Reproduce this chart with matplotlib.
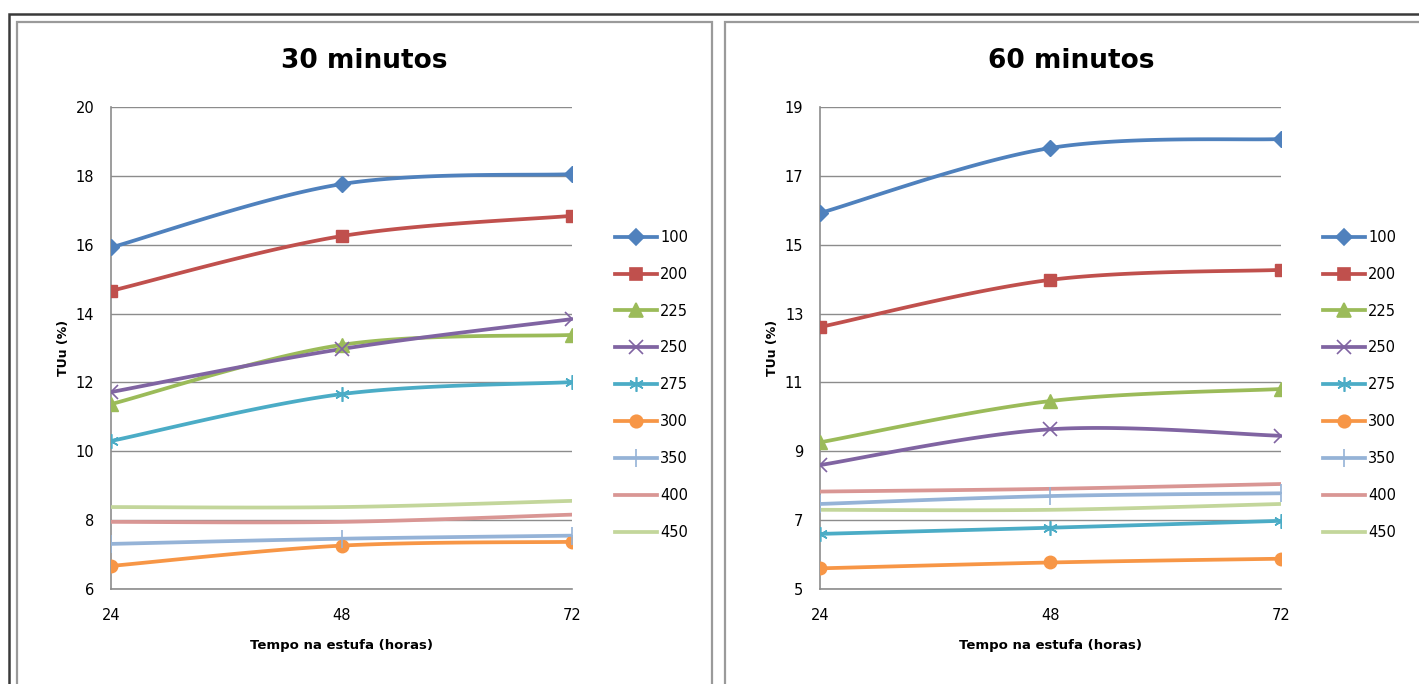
import numpy as np
import matplotlib
matplotlib.use("Agg")
import matplotlib.pyplot as plt
from matplotlib.patches import Rectangle

# tempo na estufa (horas)
horas = [24, 48, 72]
series = ["100", "200", "225", "250", "275", "300", "350", "400", "450"]

tuu_30 = {
    "100": [15.92, 17.76, 18.05],
    "200": [14.66, 16.25, 16.84],
    "225": [11.37, 13.09, 13.38],
    "250": [11.72, 12.97, 13.84],
    "275": [10.30, 11.66, 12.01],
    "300": [6.67, 7.26, 7.37],
    "350": [7.31, 7.46, 7.55],
    "400": [7.95, 7.95, 8.16],
    "450": [8.38, 8.38, 8.56],
}
tuu_60 = {
    "100": [15.92, 17.81, 18.07],
    "200": [12.61, 13.98, 14.27],
    "225": [9.26, 10.46, 10.81],
    "250": [8.60, 9.64, 9.45],
    "275": [6.60, 6.78, 6.98],
    "300": [5.60, 5.77, 5.88],
    "350": [7.47, 7.70, 7.78],
    "400": [7.83, 7.91, 8.05],
    "450": [7.30, 7.30, 7.47],
}

cores = {"100": "#4F81BD", "200": "#C0504D", "225": "#9BBB59", "250": "#8064A2",
         "275": "#4BACC6", "300": "#F79646", "350": "#95B3D7", "400": "#D99694",
         "450": "#C3D69B"}
marcas = {"100": ("D", 8.5), "200": ("s", 8.5), "225": ("^", 9.5), "250": ("x", 9.5),
          "275": ((6, 2, 0), 10.5), "300": ("o", 9), "350": ("+", 13),
          "400": (None, 0), "450": (None, 0)}


def suave(x, y, n=60):
    # curva suavizada tipo Excel (Catmull-Rom)
    x = np.asarray(x, float)
    y = np.asarray(y, float)
    px = np.concatenate([[x[0]], x, [x[-1]]])
    py = np.concatenate([[y[0]], y, [y[-1]]])
    xs, ys = [], []
    t = np.linspace(0, 1, n)
    for i in range(1, len(x)):
        p0x, p1x, p2x, p3x = px[i - 1], px[i], px[i + 1], px[i + 2]
        p0y, p1y, p2y, p3y = py[i - 1], py[i], py[i + 1], py[i + 2]
        c1x = p1x + (p2x - p0x) / 6
        c1y = p1y + (p2y - p0y) / 6
        c2x = p2x - (p3x - p1x) / 6
        c2y = p2y - (p3y - p1y) / 6
        b = [(1 - t) ** 3, 3 * (1 - t) ** 2 * t, 3 * (1 - t) * t ** 2, t ** 3]
        xs.append(b[0] * p1x + b[1] * c1x + b[2] * c2x + b[3] * p2x)
        ys.append(b[0] * p1y + b[1] * c1y + b[2] * c2y + b[3] * p2y)
    return np.concatenate(xs), np.concatenate(ys)


W, H = 1419, 684
fig = plt.figure(figsize=(W / 100, H / 100), dpi=100)
plt.rcParams['font.family'] = ['DejaVu Sans']

# moldura externa e paineis
fig.patches.append(Rectangle((9 / W, -0.1), 1.2, (H - 14) / H + 0.1, transform=fig.transFigure,
                             fill=False, ec="#3a3a3a", lw=1.8))
for x0, x1 in [(17, 712), (725, 1440)]:
    fig.patches.append(Rectangle((x0 / W, -0.1), (x1 - x0) / W, (H - 22) / H + 0.1,
                                 transform=fig.transFigure, fill=False, ec="#9a9a9a", lw=1.6))


def painel(left, centro, titulo, dados, ymin, ymax, leg_x):
    ax = fig.add_axes([left / W, 95 / H, 461 / W, 482 / H])
    for s in series:
        xs, ys = suave(horas, dados[s])
        m, ms = marcas[s]
        ax.plot(xs, ys, color=cores[s], lw=2.7, solid_capstyle="round", zorder=3)
        ax.plot(horas, dados[s], ls="none", marker=m, ms=ms, color=cores[s],
                mec=cores[s], mew=1.2 if s in ("250", "275", "350") else 1, zorder=4)
    hs = []
    for s in series:
        m, ms = marcas[s]
        h, = ax.plot([], [], color=cores[s], lw=2.7, marker=m, ms=ms, mew=1.2, label=s)
        hs.append(h)
    ax.set_xlim(24, 72)
    ax.set_ylim(ymin, ymax)
    ax.set_xticks(horas)
    ax.set_yticks(np.arange(ymin, ymax + 0.1, 2))
    ax.tick_params(length=0, labelsize=10.5, pad=12)
    ax.tick_params(axis="x", pad=14)
    ax.grid(axis="y", color="#8c8c8c", lw=1)
    ax.set_axisbelow(True)
    for sp in ("top", "right"):
        ax.spines[sp].set_visible(False)
    for sp in ("left", "bottom"):
        ax.spines[sp].set_color("#8c8c8c")
        ax.spines[sp].set_linewidth(1.2)
    ax.set_xlabel("Tempo na estufa (horas)", fontsize=9.5, fontweight="bold", labelpad=11)
    ax.set_ylabel("TUu (%)", fontsize=9, fontweight="bold", labelpad=4)
    fig.text(centro / W, 1 - 61 / H, titulo, fontsize=19, fontweight="bold",
             ha="center", va="center")
    ax.legend(handles=hs, loc="upper left", bbox_to_anchor=((leg_x - left) / 461, (577 - 212) / 482),
              frameon=False, fontsize=10.5, handlelength=2.9, handletextpad=0.2,
              labelspacing=1.5, borderaxespad=0)
    return ax


painel(111, 364, "30 minutos", tuu_30, 6, 20, 609)
painel(820, 1071, "60 minutos", tuu_60, 5, 19, 1317)

fig.savefig("out.png", dpi=100)
